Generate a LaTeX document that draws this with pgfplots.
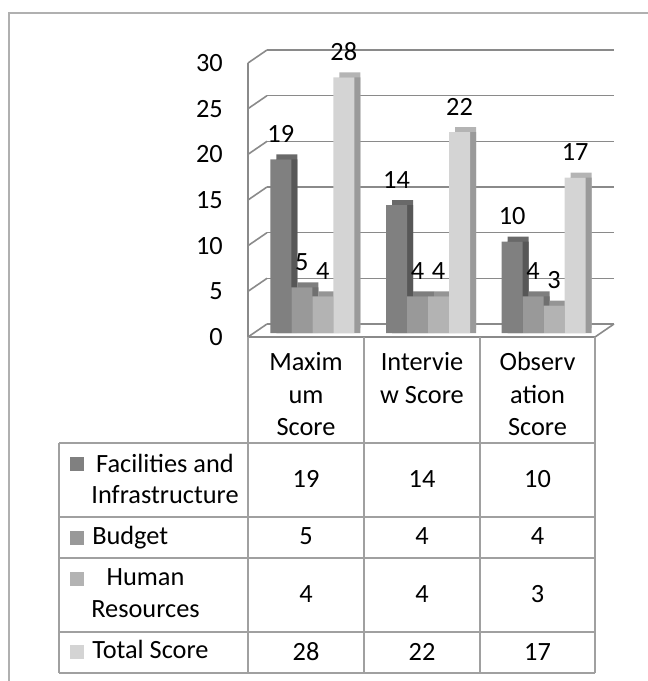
\documentclass[border=0pt]{standalone}
\usepackage{fontspec}
\setmainfont{Carlito}
\usepackage{pgfplots}
\pgfplotsset{compat=1.18}
\definecolor{gridc}{HTML}{8A8A8A}
\definecolor{tabc}{HTML}{A0A0A0}
\definecolor{frmc}{HTML}{B0B0B0}
\definecolor{aF}{HTML}{808080}\definecolor{aT}{HTML}{696969}\definecolor{aS}{HTML}{575757}
\definecolor{bF}{HTML}{999999}\definecolor{bT}{HTML}{7E7E7E}\definecolor{bS}{HTML}{707070}
\definecolor{cF}{HTML}{B3B3B3}\definecolor{cT}{HTML}{959595}\definecolor{cS}{HTML}{878787}
\definecolor{dF}{HTML}{D4D4D4}\definecolor{dT}{HTML}{B4B4B4}\definecolor{dS}{HTML}{9A9A9A}
\newcommand{\F}{\fontsize{19.75}{24}\selectfont}
\pgfplotsset{
  barbase/.style={ybar, bar width=15.75pt, draw=none},
  sideface/.style={barbase, forget plot, xshift=9.375pt, yshift=3pt, bar shift=#1},
  topface/.style={barbase, forget plot, xshift=9.375pt, yshift=6.75pt, bar shift=#1},
  frontface/.style={barbase, xshift=4.875pt, yshift=3pt, bar shift=#1,
    nodes near coords,
    nodes near coords style={font=\F, text=black, anchor=south, inner sep=0pt, yshift=12.5pt, xshift=#1}},
}
\begin{document}
\begin{tikzpicture}
\useasboundingbox (0,0) rectangle (485.25pt,-510.75pt);
\begin{scope}[x=0.75pt,y=-0.75pt]
  \draw[frmc, line width=1pt] (9,690) -- (9,13) -- (660,13);
\end{scope}
\begin{axis}[at={(186pt,-252.75pt)}, anchor=south west,
  scale only axis, width=260.25pt, height=205.5pt,
  xmin=0.5, xmax=3.5, ymin=0, ymax=30,
  axis line style={draw=none}, tick style={draw=none},
  xtick=\empty, ytick={0,5,...,30}, major tick length=0pt,
  ymajorgrids, grid style={draw=gridc, line width=1.2pt, xshift=14.25pt, yshift=9.75pt},
  yticklabel style={font=\F, anchor=east, inner sep=0pt, xshift=-18.75pt},
  /pgf/number format/assume math mode=true,
  clip=false]
  \pgfplotsinvokeforeach{0,5,...,30}{\draw[gridc, line width=1.2pt] (axis cs:0.5,#1) -- ++(14.25pt,9.75pt);}
  \draw[gridc, line width=1.2pt] (axis cs:0.5,0) -- (axis cs:0.5,30);
  \draw[gridc, line width=1.2pt] (axis cs:0.5,0) -- (axis cs:3.5,0) -- ++(14.25pt,9.75pt);
  % Facilities and Infrastructure
  \addplot[topface=-23.625pt, fill=aT] coordinates {(1,19) (2,14) (3,10)};
  \addplot[sideface=-23.625pt, fill=aS] coordinates {(1,19) (2,14) (3,10)};
  \addplot[frontface=-23.625pt, fill=aF] coordinates {(1,19) (2,14) (3,10)};
  % Budget
  \addplot[topface=-7.875pt, fill=bT] coordinates {(1,5) (2,4) (3,4)};
  \addplot[sideface=-7.875pt, fill=bS] coordinates {(1,5) (2,4) (3,4)};
  \addplot[frontface=-7.875pt, fill=bF] coordinates {(1,5) (2,4) (3,4)};
  % Human Resources
  \addplot[topface=7.875pt, fill=cT] coordinates {(1,4) (2,4) (3,3)};
  \addplot[sideface=7.875pt, fill=cS] coordinates {(1,4) (2,4) (3,3)};
  \addplot[frontface=7.875pt, fill=cF] coordinates {(1,4) (2,4) (3,3)};
  % Total Score
  \addplot[topface=23.625pt, fill=dT] coordinates {(1,28) (2,22) (3,17)};
  \addplot[sideface=23.625pt, fill=dS] coordinates {(1,28) (2,22) (3,17)};
  \addplot[frontface=23.625pt, fill=dF] coordinates {(1,28) (2,22) (3,17)};
\end{axis}
\begin{scope}[x=0.75pt,y=-0.75pt, every node/.style={font=\F, inner sep=0pt}]
  \draw[tabc, line width=1pt]
    (248,337) -- (248,673) (364,337) -- (364,673) (480,337) -- (480,673) (595,337) -- (595,673)
    (59,443) -- (59,673);
  \foreach \yy in {443,517,558,632,673} \draw[tabc, line width=1pt] (59,\yy) -- (595,\yy);
  % category labels
  \node[anchor=base] at (306,370) {Maxim};
  \node[anchor=base] at (306,403) {um};
  \node[anchor=base] at (306,435) {Score};
  \node[anchor=base] at (422,370) {Intervie};
  \node[anchor=base] at (422,403) {w Score};
  \node[anchor=base] at (537.5,370) {Observ};
  \node[anchor=base] at (537.5,403) {ation};
  \node[anchor=base] at (537.5,435) {Score};
  % legend keys
  \fill[aF] (70,457) rectangle (84,471);
  \fill[bF] (70,531) rectangle (84,545);
  \fill[cF] (70,572) rectangle (84,586);
  \fill[dF] (70,645) rectangle (84,659);
  % row labels
  \node[anchor=base] at (165,472) {Facilities and};
  \node[anchor=base] at (165,503) {Infrastructure};
  \node[anchor=base west] at (92,544) {Budget};
  \node[anchor=base] at (145.5,585) {Human};
  \node[anchor=base] at (145.5,617) {Resources};
  \node[anchor=base west] at (92,658) {Total Score};
  % values
  \foreach \x/\a/\b/\c/\d in {306/19/5/4/28, 422/14/4/4/22, 537.5/10/4/3/17}{
    \node[anchor=base] at (\x,487.5) {\a};
    \node[anchor=base] at (\x,544) {\b};
    \node[anchor=base] at (\x,602) {\c};
    \node[anchor=base] at (\x,660) {\d};
  }
\end{scope}
\end{tikzpicture}
\end{document}
